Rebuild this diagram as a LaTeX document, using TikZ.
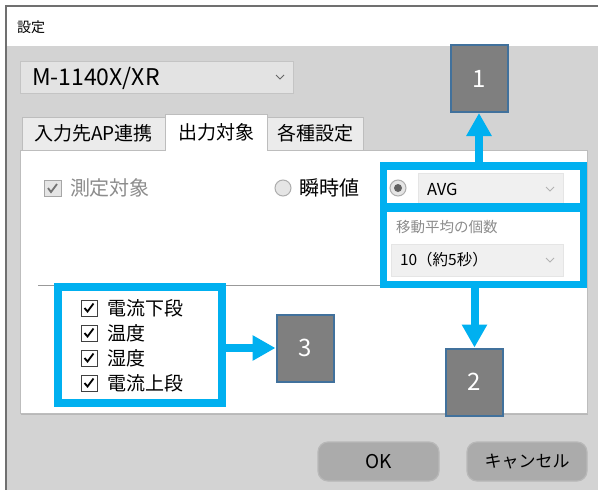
\documentclass[tikz,border=0pt]{standalone}
\usepackage{fontspec}
\newfontfamily\jp{Noto Sans CJK JP}
\usetikzlibrary{arrows.meta,calc}
\definecolor{winbg}{HTML}{D3D3D3}
\definecolor{hl}{HTML}{00B0F0}
\definecolor{badgefill}{HTML}{7F7F7F}
\definecolor{badgeline}{HTML}{41719C}
\definecolor{dimtext}{HTML}{8C8C8C}
\definecolor{framec}{HTML}{707070}
\definecolor{tabfill}{HTML}{EBEBEB}
\definecolor{tabline}{HTML}{BDBDBD}
\definecolor{ddfill}{HTML}{E3E3E3}
\definecolor{ddline}{HTML}{C4C4C4}
\definecolor{ddlight}{HTML}{F0F0F0}
\definecolor{btnfill}{HTML}{ABABAB}
\definecolor{btnline}{HTML}{B8B8B8}
\tikzset{
  txt/.style={font=\jp\fontsize{#1pt}{#1pt}\selectfont, inner sep=0pt, outer sep=0pt},
  hlbox/.style={draw=hl, line width=7.5pt, inner sep=0pt, outer sep=0pt},
  badge/.style={draw=badgeline, fill=badgefill, line width=2pt, inner sep=0pt,
    minimum width=57pt, minimum height=67pt, text=white, font=\jp\fontsize{24pt}{24pt}\selectfont},
  hlarrow/.style={draw=hl, line width=8pt, -{Triangle[length=23pt,width=24pt]}},
  tabbox/.style={draw=tabline, fill=tabfill, line width=1pt},
  ddbox/.style={draw=#1, line width=1pt},
  chev/.style={draw=#1, line width=0.9pt},
  cbox/.style={draw=#1, line width=1pt},
  tick/.style={draw=#1, line width=1.8pt},
  btn/.style={draw=btnline, fill=btnfill, line width=1.2pt, rounded corners=10pt},
}
\begin{document}
\begin{tikzpicture}[x=1pt,y=-1pt]
\useasboundingbox (0,0) rectangle (598,490);
\fill[white] (0,0) rectangle (598,490);
% window
\fill[winbg] (6,46) rectangle (598,490);
\draw[framec, line width=1.3pt] (6,490) -- (6,6) -- (598,6);
\node[txt=14, anchor=west] (title) at (17,27) {設定};
% model dropdown
\draw[ddbox=ddline, fill=ddfill] (20,61) rectangle (293,93);
\node[txt=23, anchor=west] (model) at (32,78) {M-1140X/XR};
\draw[chev=black!60] (276,75) -- (280,79) -- (284,75);
% tabs
\draw[tabbox] (22,117) rectangle (165,150);
\draw[tabbox] (267,117) rectangle (363,150);
% panel
\fill[black!28] (21,151) rectangle (588,415);
\draw[tabline, fill=white, line width=1pt] (20,150) rectangle (587,413);
\draw[tabline, fill=white, line width=1pt] (165,151) -- (165,114) -- (267,114) -- (267,151);
\fill[white] (165.5,148) rectangle (266.5,152);
\node[txt=19] (tabA) at (93.5,133) {入力先AP連携};
\node[txt=19] (tabB) at (216,132) {出力対象};
\node[txt=19] (tabC) at (315,133) {各種設定};
% measurement target (disabled)
\draw[cbox=black!35, fill=black!10] (44,180) rectangle (61,196);
\draw[tick=black!55] (48,188) -- (51,192) -- (57,184);
\node[txt=20, anchor=west, text=dimtext] (meas) at (70,188) {測定対象};
% instantaneous radio
\draw[draw=black!32, fill=black!10, line width=1pt] (283,188) circle (8);
\node[txt=20, anchor=west] (inst) at (299,188) {瞬時値};
% AVG radio & dropdown
\draw[draw=black!32, fill=black!10, line width=1pt] (398,188) circle (8);
\fill[black!62] (398,188) circle (4);
\draw[ddbox=black!10, fill=ddlight] (418,173) rectangle (563,205);
\node[txt=16.5, anchor=west] (avg) at (427,189) {AVG};
\draw[chev=black!30] (546,187) -- (550,191) -- (554,187);
\node[txt=14.5, anchor=west, text=dimtext] (mavg) at (396,227) {移動平均の個数};
\draw[ddbox=black!10, fill=ddlight] (391,244) rectangle (563,276);
\node[txt=15.5, anchor=west] (cnt) at (400,260) {10（約5秒）};
\draw[chev=black!30] (546,258) -- (550,262) -- (554,258);
% separator
\draw[black!40, line width=1pt] (38,285) -- (382,285);
% output checkboxes
\foreach \yy/\lab/\nm in {308/電流下段/c1, 333/温度/c2, 358/湿度/c3, 383/電流上段/c4}{
  \draw[cbox=black!75, fill=white] (81,\yy-8) rectangle (97,\yy+8);
  \draw[tick=black] (84.5,\yy) -- (87.5,\yy+3.5) -- (93.5,\yy-4.5);
  \node[txt=19, anchor=west] (\nm) at (107,\yy) {\lab};
}
% highlight boxes
\node[hlbox, minimum width=200pt, minimum height=41pt] (b1) at (483.5,186.5) {};
\node[hlbox, minimum width=200pt, minimum height=76pt] (b2) at (483.5,246.5) {};
\node[hlbox, minimum width=164pt, minimum height=116pt] (b3) at (140,345) {};
% badges
\node[badge] (n1) at (479,78.5) {1};
\node[badge] (n2) at (474.5,382) {2};
\node[badge] (n3) at (305,348) {3};
% arrows
\draw[hlarrow] (b1.north -| n1.south) -- (n1.south);
\draw[hlarrow] (b2.south -| n2.north) -- (n2.north);
\draw[hlarrow] (b3.east |- n3.west) -- (n3.west);
% buttons
\node[btn, minimum width=121pt, minimum height=39pt, txt=19, inner sep=0pt] (ok) at (378.5,461.5) {OK};
\node[btn, minimum width=120pt, minimum height=39pt, txt=17, inner sep=0pt] (cancel) at (527,461.5) {キャンセル};
\end{tikzpicture}
\end{document}
